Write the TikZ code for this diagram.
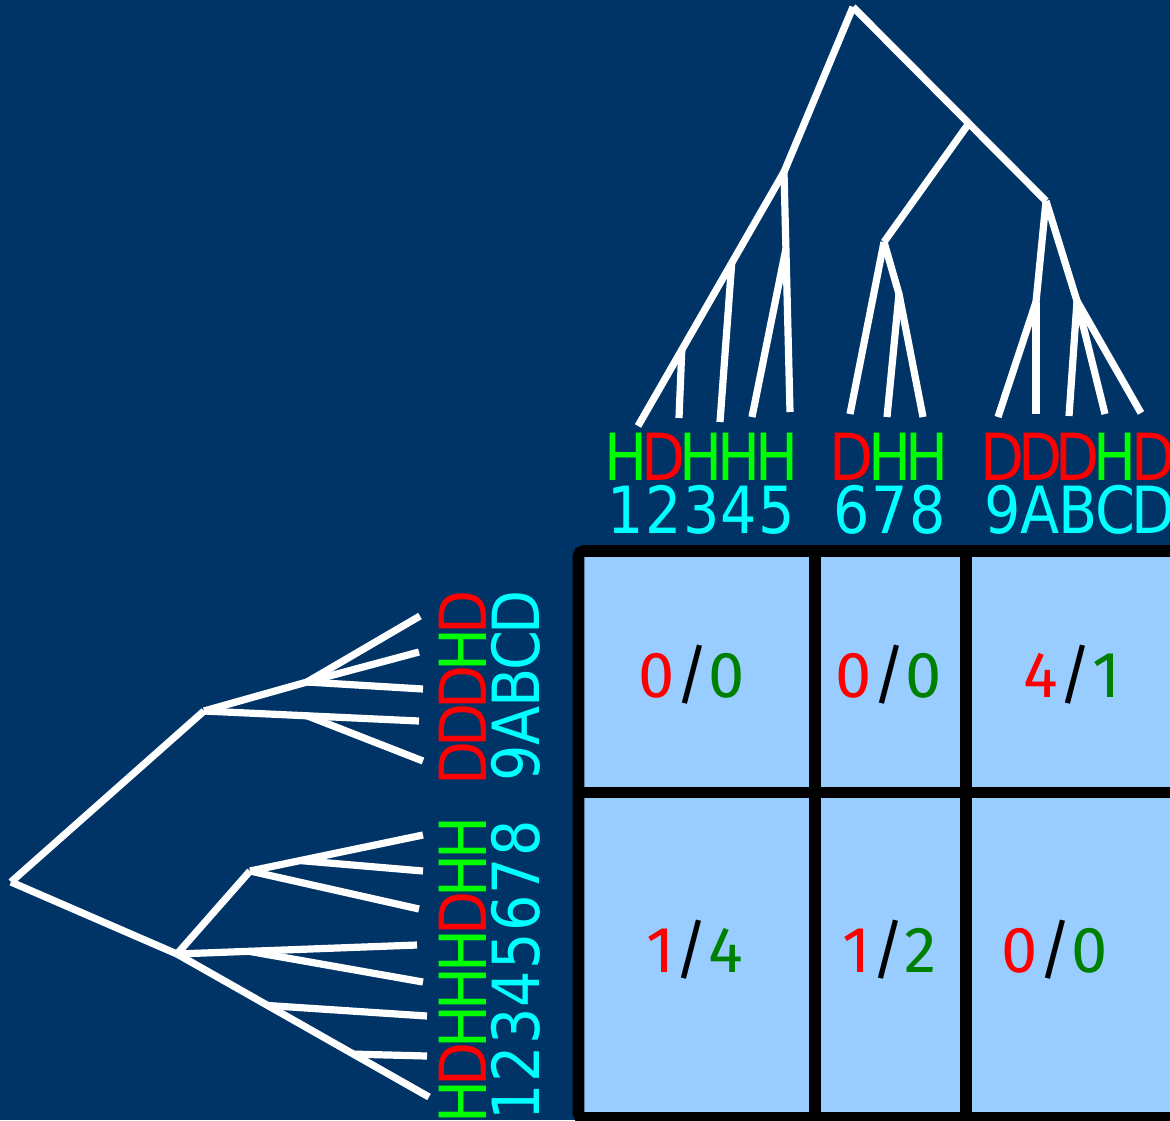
\documentclass[tikz,border=0pt]{standalone}
\usepackage{fontspec}
\usetikzlibrary{calc}
\newfontfamily\labfont[FakeStretch=0.88]{DejaVu Sans}
\newfontfamily\cellfont{Fira Sans}
\definecolor{bgblue}{RGB}{0,51,102}
\definecolor{cellblue}{RGB}{153,204,255}
\definecolor{hgreen}{RGB}{0,255,0}
\definecolor{dred}{RGB}{255,0,0}
\definecolor{lcyan}{RGB}{0,255,255}
\definecolor{cgreen}{RGB}{0,128,0}
\newcommand\slotw{37.65pt}
\newcommand\lH{\makebox[\slotw]{\textcolor{hgreen}{H}}}
\newcommand\lD{\makebox[\slotw]{\textcolor{dred}{D}}}
\newcommand\lS{\makebox[\slotw]{}}
\newcommand\lN[1]{\makebox[\slotw]{\textcolor{lcyan}{#1}}}
\newcommand\cellval[2]{\textcolor{dred}{#1}\textcolor{black}{/}\textcolor{cgreen}{#2}}
\begin{document}
\begin{tikzpicture}[x=1pt,y=-1pt,
  branch/.style={draw=white,line width=7.2pt,line cap=butt},
  gridline/.style={draw=black,line width=11.6pt},
  lab/.style={inner sep=0pt,font=\labfont\fontsize{65}{65}\selectfont},
  cell/.style={inner sep=0pt,font=\cellfont\fontsize{65}{65}\selectfont}]
\useasboundingbox (0,0) rectangle (1170,1120);
\clip (0,0) rectangle (1170,1120);
\fill[bgblue] (0,0) rectangle (1170,1120);

% ---------- top tree ----------
\coordinate (Tr) at (853,7);
\coordinate (TA) at (784,172);
\coordinate (TD) at (1046,201);
\coordinate (TB) at ($(Tr)!0.6!(TD)$);
\coordinate (TC) at (884,242);
\coordinate (L1) at (638,426);
\coordinate (L2) at (679,418);
\coordinate (L3) at (720,422);
\coordinate (L4) at (752,417);
\coordinate (L5) at (790,412);
\coordinate (L6) at (850,414);
\coordinate (L7) at (887,417);
\coordinate (L8) at (923,417);
\coordinate (L9) at (998,417);
\coordinate (LA) at (1036,414);
\coordinate (LB) at (1069,416);
\coordinate (LC) at (1105,414);
\coordinate (LD) at (1141,413);
\coordinate (Ta1) at ($(TA)!0.358!(L1)$);
\coordinate (Ta2) at ($(TA)!0.70!(L1)$);
\coordinate (Ta3) at ($(TA)!0.32!(L5)$);
\coordinate (Tc1) at (899,294);
\coordinate (Td1) at (1036,302);
\coordinate (Td2) at (1077,301);

\draw[branch] (Tr) -- (TA);
\draw[branch] (Tr) -- (TD);
\draw[branch] (TB) -- (TC);
\draw[branch] (TA) -- (L1);
\draw[branch] (Ta1) -- (L3);
\draw[branch] (Ta2) -- (L2);
\draw[branch] (TA) -- (L5);
\draw[branch] (Ta3) -- (L4);
\draw[branch] (TC) -- (L6);
\draw[branch] (TC) -- (Tc1) -- (L8);
\draw[branch] (Tc1) -- (L7);
\draw[branch] (TD) -- (Td1);
\draw[branch] (Td1) -- (L9);
\draw[branch] (Td1) -- (LA);
\draw[branch] (TD) -- (Td2);
\draw[branch] (Td2) -- (LB);
\draw[branch] (Td2) -- (LC);
\draw[branch] (Td2) -- (LD);

% ---------- left tree ----------
\coordinate (Lr) at (11,882);
\coordinate (LU) at (204,711);
\coordinate (LL) at (177,954);
\coordinate (Lu1) at (307,682);
\coordinate (LDl) at (420,616);
\coordinate (LCl) at (419,652);
\coordinate (LBl) at (423,689);
\coordinate (LAl) at (419,721);
\coordinate (L9l) at (423,761);
\coordinate (Lu2) at ($(LU)!0.48!(LAl)$);
\coordinate (Ll1) at (250,871);
\coordinate (L8l) at (423,835);
\coordinate (L7l) at (423,871);
\coordinate (L6l) at (419,909);
\coordinate (L5l) at (417,945);
\coordinate (L4l) at (423,982);
\coordinate (L3l) at (427,1016);
\coordinate (L2l) at (427,1056);
\coordinate (L1l) at (429,1097);
\coordinate (Ll1b) at ($(Ll1)!0.29!(L8l)$);
\coordinate (Ll2) at ($(LL)!0.30!(L5l)$);
\coordinate (Ll3) at ($(LL)!0.36!(L1l)$);
\coordinate (Ll4) at ($(LL)!0.70!(L1l)$);

\draw[branch] (Lr) -- (LU);
\draw[branch] (Lr) -- (LL);
\draw[branch] (LU) -- (Lu1);
\draw[branch] (Lu1) -- (LDl);
\draw[branch] (Lu1) -- (LCl);
\draw[branch] (Lu1) -- (LBl);
\draw[branch] (LU) -- (LAl);
\draw[branch] (Lu2) -- (L9l);
\draw[branch] (LL) -- (Ll1);
\draw[branch] (Ll1) -- (L8l);
\draw[branch] (Ll1b) -- (L7l);
\draw[branch] (Ll1) -- (L6l);
\draw[branch] (LL) -- (L5l);
\draw[branch] (Ll2) -- (L4l);
\draw[branch] (LL) -- (L1l);
\draw[branch] (Ll3) -- (L3l);
\draw[branch] (Ll4) -- (L2l);

% ---------- labels ----------
\node[lab,anchor=base west] (toplet) at (607,480) {\lH\lD\lH\lH\lH\lS\lD\lH\lH\lS\lD\lD\lD\lH\lD};
\node[lab,anchor=base west] (topnum) at (607,533) {\lN{1}\lN{2}\lN{3}\lN{4}\lN{5}\lS\lN{6}\lN{7}\lN{8}\lS\lN{9}\lN{A}\lN{B}\lN{C}\lN{D}};
\node[lab,anchor=base west,rotate=90] (leftlet) at (486,1121) {\lH\lD\lH\lH\lH\lD\lH\lH\lS\lD\lD\lD\lH\lD};
\node[lab,anchor=base west,rotate=90] (leftnum) at (539,1121) {\lN{1}\lN{2}\lN{3}\lN{4}\lN{5}\lN{6}\lN{7}\lN{8}\lS\lN{9}\lN{A}\lN{B}\lN{C}\lN{D}};

% ---------- grid ----------
\fill[cellblue] (578.5,551) rectangle (1200,1130);
\draw[gridline,rounded corners=5pt] (1200,551) -- (578.5,551) -- (578.5,1118) -- (1200,1118);
\draw[gridline] (815,551) -- (815,1118);
\draw[gridline] (966,551) -- (966,1118);
\draw[gridline] (578.5,792.5) -- (1200,792.5);

\node[cell,anchor=base] (c11) at (692,697) {\cellval{0}{0}};
\node[cell,anchor=base] (c12) at (889,697) {\cellval{0}{0}};
\node[cell,anchor=base] (c13) at (1072,697) {\cellval{4}{1}};
\node[cell,anchor=base] (c21) at (695,972) {\cellval{1}{4}};
\node[cell,anchor=base] (c22) at (890,972) {\cellval{1}{2}};
\node[cell,anchor=base] (c23) at (1055,972) {\cellval{0}{0}};
\end{tikzpicture}
\end{document}
